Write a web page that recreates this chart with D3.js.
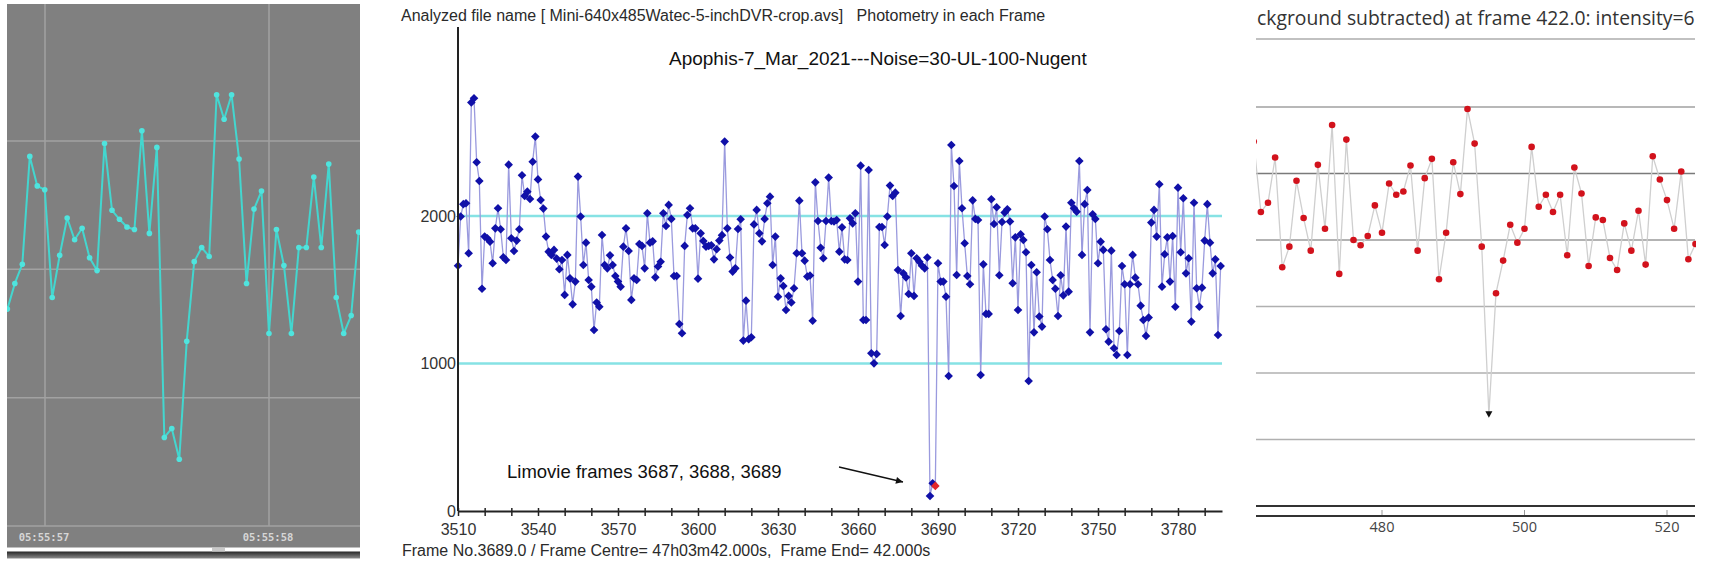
<!DOCTYPE html>
<html><head><meta charset="utf-8">
<script src="https://cdn.jsdelivr.net/npm/d3@7"></script>
<style>
html,body{margin:0;padding:0;background:#fff;}
svg{display:block;}
</style></head><body>
<svg id="c" width="1710" height="570"></svg>
<script>
// ================= DATA =================
// Left panel (video light curve, cyan)
const leftValues = [1.69,1.89,2.04,2.88,2.65,2.62,1.78,2.11,2.40,2.23,2.32,2.09,1.99,2.98,2.46,2.39,2.33,2.31,3.08,2.28,2.95,0.69,0.76,0.52,1.44,2.06,2.17,2.10,3.36,3.17,3.36,2.86,1.89,2.47,2.61,1.50,2.31,2.03,1.50,2.17,2.17,2.72,2.17,2.82,1.78,1.50,1.64,2.29];
const leftStartSec = 56.832;      // seconds after 05:55:00 of first frame
const leftFps = 29.97;
const leftTickSecs = [57, 58];
const leftTickLabels = ["05:55:57", "05:55:58"];
const leftGridValues = [1, 2, 3];

// Middle panel (Limovie photometry)
const midFirstFrame = 3510;
const midValues = [
1663,1996,2080,2086,1747,2769,2798,2364,2237,1507,
1860,1849,1826,1679,1916,2052,1910,1720,1702,2348,
1849,1763,1833,1910,2276,2136,2165,2115,2368,2538,
2248,2108,2050,1860,1758,1736,1770,1711,1639,1702,
1465,1736,1577,1401,1555,2267,1996,1668,1819,1566,
1521,1227,1413,1385,1871,1668,1645,1733,1668,1593,
1555,1521,1792,1916,1763,1431,1577,1566,1810,1797,
1645,2018,1819,1828,1584,1657,1690,2018,1932,2075,
1980,1593,1593,1268,1205,1797,2007,2052,1916,1916,
1575,1882,1830,
1792,1797,1801,1706,1774,1833,1870,2504,1916,1718,
1623,1645,1912,1978,1155,1426,1164,1178,1943,2041,
1882,1828,1980,2086,2131,1668,1860,1453,1577,1525,
1363,1458,1413,1510,1747,2104,1747,1697,1589,1596,
1290,2228,1966,1785,1713,1966,2260,1966,1962,1973,
1758,1923,1706,1702,1984,1950,2018,1555,2341,1295,
1295,2312,1069,1001,1064,1925,1925,1803,1996,2206,
2136,2158,1634,1322,1611,1584,1471,1747,1458,1713,
1690,1663,1645,1718,
102,188,170,
1679,1555,1555,1453,915,2481,2203,1600,2373,
2052,1815,1593,1537,2106,1980,1973,922,1672,1336,
1336,2113,1946,2059,1598,1959,2023,2045,1962,1544,
1855,1363,1876,1837,1754,881,1668,1211,1618,1318,
1250,1996,1910,1702,1566,1507,1322,1598,1462,1928,
1487,2090,2052,2029,2373,1736,2080,2176,1211,2011,
1980,1679,1826,1770,1232,1148,1765,1103,1058,1220,
1661,1537,1058,1537,1736,1582,1537,1392,1295,1187,
1311,1955,2041,1860,2215,1521,1740,1855,1555,1864,
1385,2192,1754,2120,1611,1713,1284,2090,1510,1385,
1514,1833,2080,1819,1611,1706,1193,1661];
const midCurrentFrame = 3689;
const midRefLines = [1000, 2000];
const midYTicks = [0, 1000, 2000];
const midXLabelStep = 30;
const midXMinorStep = 10;
const midHeader = "Analyzed file name [ Mini-640x485Watec-5-inchDVR-crop.avs]   Photometry in each Frame";
const midTitle = "Apophis-7_Mar_2021---Noise=30-UL-100-Nugent";
const midNote = "Limovie frames 3687, 3688, 3689";
const midFooter = "Frame No.3689.0 / Frame Centre= 47h03m42.000s,  Frame End= 42.000s";

// Right panel (red dots)
const rightFirstFrame = 462;
const rightValues = [548,442,456,524,359,390,489,433,384,513,417,573,349,551,400,392,406,452,411,485,468,473,512,384,493,522,341,411,517,469,597,545,390,138,320,369,423,396,417,540,450,468,442,468,377,509,470,361,434,430,373,355,425,384,444,363,526,491,460,417,503,371,394];
const rightDipFrame = 495;
const rightXTicks = [480, 500, 520];
const rightGrid = [100, 200, 300, 400, 500, 600];
const rightTitle = "ckground subtracted) at frame 422.0: intensity=6";

// ================= DRAW =================
const svg = d3.select("#c");
const defs = svg.append("defs");

// ---------- LEFT PANEL ----------
(function(){
  const L = 7, R = 360, T = 4, B = 526;
  const xL = d3.scaleLinear().domain([57, 58]).range([45, 269]);
  const yL = d3.scaleLinear().domain([0, 3]).range([B, 141]);
  const g = svg.append("g");
  g.append("rect").attr("x", L).attr("y", T).attr("width", R - L).attr("height", 547.5 - T).attr("fill", "#808080");
  defs.append("clipPath").attr("id", "clipL").append("rect").attr("x", L).attr("y", T).attr("width", R - L).attr("height", B - T);
  const gridC = "#a2a2a2";
  g.selectAll("line.hg").data(leftGridValues.concat([0])).join("line")
    .attr("x1", L).attr("x2", R).attr("y1", d => yL(d)).attr("y2", d => yL(d))
    .attr("stroke", gridC).attr("stroke-width", 1.5);
  g.selectAll("line.vg").data(leftTickSecs).join("line")
    .attr("x1", d => xL(d)).attr("x2", d => xL(d)).attr("y1", T).attr("y2", B)
    .attr("stroke", gridC).attr("stroke-width", 1.5);
  g.selectAll("text.tl").data(leftTickSecs).join("text")
    .attr("x", d => xL(d) - 1).attr("y", 541).attr("text-anchor", "middle")
    .attr("font-family", "DejaVu Sans Mono, monospace").attr("font-weight", "bold")
    .attr("font-size", 10.5).attr("fill", "#d6d6d6")
    .text((d, i) => leftTickLabels[i]);
  const pts = leftValues.map((v, i) => [xL(leftStartSec + i / leftFps), yL(v)]);
  const gc = g.append("g").attr("clip-path", "url(#clipL)");
  gc.append("path").attr("d", d3.line()(pts)).attr("fill", "none")
    .attr("stroke", "#43d6cf").attr("stroke-width", 2).attr("stroke-linejoin", "round");
  gc.selectAll("circle").data(pts).join("circle")
    .attr("cx", d => d[0]).attr("cy", d => d[1]).attr("r", 2.8).attr("fill", "#4fe4de");
  // bottom scrollbar
  const gr = defs.append("linearGradient").attr("id", "barG").attr("x1", 0).attr("x2", 0).attr("y1", 0).attr("y2", 1);
  gr.append("stop").attr("offset", "0").attr("stop-color", "#262626");
  gr.append("stop").attr("offset", "1").attr("stop-color", "#8c8c8c");
  g.append("rect").attr("x", L).attr("y", 551.5).attr("width", R - L).attr("height", 7).attr("fill", "url(#barG)");
  g.append("rect").attr("x", 212).attr("y", 548).attr("width", 13).attr("height", 3.5).attr("fill", "#c8c8c8");
})();

// ---------- MIDDLE PANEL ----------
(function(){
  const lastFrame = midFirstFrame + midValues.length - 1;
  const xM = d3.scaleLinear().domain([3510, 3796.5]).range([458, 1222]);
  const yM = d3.scaleLinear().domain([0, 3281]).range([511, 27]);
  const g = svg.append("g");
  const font = "Liberation Sans, Arial, sans-serif";

  g.append("text").attr("x", 401).attr("y", 21).attr("font-family", font).attr("font-size", 16)
    .attr("fill", "#2a2a2a").style("white-space", "pre").text(midHeader);
  g.append("text").attr("x", 669).attr("y", 65).attr("font-family", font).attr("font-size", 19)
    .attr("fill", "#111").text(midTitle);

  g.selectAll("line.ref").data(midRefLines).join("line")
    .attr("x1", 458).attr("x2", 1222).attr("y1", d => yM(d)).attr("y2", d => yM(d))
    .attr("stroke", "#86e2e4").attr("stroke-width", 2.5);

  const pts = midValues.map((v, i) => ({f: midFirstFrame + i, v}));
  g.append("path").attr("d", d3.line().x(d => xM(d.f)).y(d => yM(d.v))(pts))
    .attr("fill", "none").attr("stroke", "#9a9ade").attr("stroke-width", 1.3);

  const dia = "M0,-4.3L4.3,0L0,4.3L-4.3,0Z";
  g.selectAll("path.pt").data(pts.filter(d => d.f !== midCurrentFrame)).join("path")
    .attr("d", dia).attr("transform", d => `translate(${xM(d.f)},${yM(d.v)})`).attr("fill", "#1010a8");
  g.selectAll("path.cur").data(pts.filter(d => d.f === midCurrentFrame)).join("path")
    .attr("d", dia).attr("transform", d => `translate(${xM(d.f)},${yM(d.v)})`).attr("fill", "#e3262a");

  // y axis
  g.append("line").attr("x1", 458).attr("x2", 458).attr("y1", 27).attr("y2", 511)
    .attr("stroke", "#222").attr("stroke-width", 2);
  g.selectAll("text.yl").data(midYTicks).join("text")
    .attr("x", 456).attr("y", d => yM(d)).attr("dy", "0.35em").attr("text-anchor", "end")
    .attr("font-family", font).attr("font-size", 16).attr("fill", "#333").text(d => d);

  // x axis
  const ax = d3.axisBottom(xM)
    .tickValues(d3.range(3510, lastFrame, midXMinorStep))
    .tickSizeOuter(0).tickSizeInner(4).tickPadding(9)
    .tickFormat(d => ((d - 3510) % midXLabelStep === 0) ? d : "");
  const ga = g.append("g").attr("transform", "translate(0,511)").call(ax);
  ga.select(".domain").attr("stroke", "#222").attr("stroke-width", 2);
  ga.selectAll(".tick line").attr("y1", -3).attr("y2", 5).attr("stroke", "#222").attr("stroke-width", 1.5);
  ga.selectAll(".tick text").attr("font-family", font).attr("font-size", 16).attr("fill", "#333");

  // annotation
  g.append("text").attr("x", 507).attr("y", 478).attr("font-family", font).attr("font-size", 18.5)
    .attr("fill", "#111").text(midNote);
  defs.append("marker").attr("id", "arr").attr("viewBox", "0 0 10 10").attr("refX", 10).attr("refY", 5)
    .attr("markerWidth", 9).attr("markerHeight", 7).attr("markerUnits", "userSpaceOnUse").attr("orient", "auto")
    .append("path").attr("d", "M0,0L10,5L0,10Z").attr("fill", "#111");
  g.append("line").attr("x1", 839).attr("y1", 467).attr("x2", 903).attr("y2", 482)
    .attr("stroke", "#111").attr("stroke-width", 1.3).attr("marker-end", "url(#arr)");

  g.append("text").attr("x", 402).attr("y", 556).attr("font-family", font).attr("font-size", 16)
    .attr("fill", "#2a2a2a").style("white-space", "pre").text(midFooter);
})();

// ---------- RIGHT PANEL ----------
(function(){
  const L = 1256, R = 1696;
  const xR = d3.scaleLinear().domain([480, 520]).range([1382, 1667]);
  const yR = d3.scaleLinear().domain([0, 600]).range([506, 107]);
  const g = svg.append("g");
  const font = "Open Sans, Noto Sans, sans-serif";
  defs.append("clipPath").attr("id", "clipR").append("rect").attr("x", L).attr("y", 0).attr("width", R - L).attr("height", 570);

  // title (the visible part of the original, which is cut by the screenshot)
  const t = g.append("text").attr("x", 1257).attr("y", 25).attr("font-family", font).attr("font-size", 18)
    .attr("fill", "#333").text(rightTitle);
  const w = t.node().getComputedTextLength();
  t.attr("font-size", 18 * 438 / w);

  g.append("line").attr("x1", L).attr("x2", R - 1).attr("y1", 39).attr("y2", 39).attr("stroke", "#adadad").attr("stroke-width", 1.5);

  const gridCol = {100: "#b0b0b0", 200: "#b0b0b0", 300: "#b0b0b0", 400: "#9a9a9a", 500: "#7a7a7a", 600: "#a0a0a0"};
  g.selectAll("line.rg").data(rightGrid).join("line")
    .attr("x1", L).attr("x2", R - 1).attr("y1", d => yR(d)).attr("y2", d => yR(d))
    .attr("stroke", d => gridCol[d]).attr("stroke-width", 1.6);
  g.append("line").attr("x1", L).attr("x2", R - 1).attr("y1", yR(0)).attr("y2", yR(0)).attr("stroke", "#333").attr("stroke-width", 2);
  g.append("line").attr("x1", L).attr("x2", R - 1).attr("y1", 516).attr("y2", 516).attr("stroke", "#333").attr("stroke-width", 2);
  g.selectAll("line.rt").data(rightXTicks).join("line")
    .attr("x1", d => xR(d)).attr("x2", d => xR(d)).attr("y1", 510).attr("y2", 515).attr("stroke", "#999").attr("stroke-width", 1);
  g.selectAll("text.rl").data(rightXTicks).join("text")
    .attr("x", d => xR(d)).attr("y", 532).attr("text-anchor", "middle")
    .attr("font-family", font).attr("font-size", 14.5).attr("fill", "#444").text(d => d);

  const pts = rightValues.map((v, i) => ({f: rightFirstFrame + i, v}));
  const gc = g.append("g").attr("clip-path", "url(#clipR)");
  gc.append("path").attr("d", d3.line().x(d => xR(d.f)).y(d => yR(d.v))(pts))
    .attr("fill", "none").attr("stroke", "#cfcfcf").attr("stroke-width", 1.3);
  gc.selectAll("circle").data(pts.filter(d => d.f !== rightDipFrame)).join("circle")
    .attr("cx", d => xR(d.f)).attr("cy", d => yR(d.v)).attr("r", 3.3).attr("fill", "#d2121c");
  gc.selectAll("path.tri").data(pts.filter(d => d.f === rightDipFrame)).join("path")
    .attr("d", "M-3.5,-3L3.5,-3L0,3.5Z")
    .attr("transform", d => `translate(${xR(d.f)},${yR(d.v)})`).attr("fill", "#111");
})();
</script>
</body></html>
